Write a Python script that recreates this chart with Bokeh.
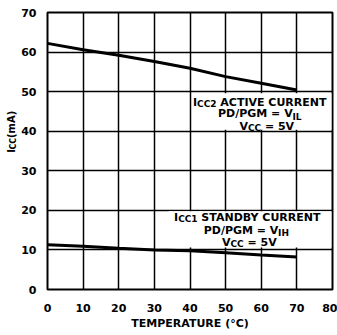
import math
from bokeh.plotting import figure
from bokeh.layouts import row
from bokeh.models import Range1d, FixedTicker, Label, BoxAnnotation
from bokeh.core.properties import value
from bokeh.embed import file_html
from bokeh.resources import INLINE

# ---- data ----
temperature = [0, 10, 20, 30, 40, 50, 60, 70]
icc2_active = [62.2, 60.6, 59.2, 57.6, 55.9, 53.8, 52.1, 50.4]
icc1_standby = [11.3, 10.9, 10.4, 10.0, 9.8, 9.3, 8.7, 8.2]
x_ticks = [0, 10, 20, 30, 40, 50, 60, 70, 80]
y_ticks = [0, 10, 20, 30, 40, 50, 60, 70]
x_title = "TEMPERATURE (°C)"
y_title_parts = ["I", "CC", "(mA)"]

# ---- layout (page pixels) ----
S = 18            # width of the strip holding the y title
W, H = 337, 332   # whole page area
FL, FT, FR, FB = 46, 12, 332, 298
X0, X1, Y0, Y1 = 0, 80, 0, 70
FONT = "DejaVu Sans"

def dx(px):
    return X0 + (px - FL) / (FR - FL) * (X1 - X0)

def dy(py):
    return Y0 + (FB - py) / (FB - FT) * (Y1 - Y0)

# DejaVu Sans Bold advance widths (em)
CW = {" ": .348, "(": .458, ")": .458, "/": .365, "=": .838, "°": .500,
      "A": .774, "B": .762, "C": .734, "D": .830, "E": .683, "G": .821,
      "H": .837, "I": .372, "L": .637, "M": .995, "N": .837, "P": .733,
      "R": .770, "S": .720, "T": .682, "U": .812, "V": .774, "Y": .724,
      "m": 1.042}
for d in "0123456789":
    CW[d] = .696

def tw(s, size):
    return sum(CW.get(c, .7) for c in s) * size

p = figure(width=W - S, height=H, output_backend="svg", toolbar_location=None,
           x_range=Range1d(X0, X1), y_range=Range1d(Y0, Y1),
           min_border_left=FL - S, min_border_top=FT,
           min_border_right=W - FR, min_border_bottom=H - FB)

p.background_fill_color = "white"
p.border_fill_color = "white"
p.outline_line_color = "black"
p.outline_line_width = 2
p.outline_line_alpha = 1

xt = FixedTicker(ticks=x_ticks)
yt = FixedTicker(ticks=y_ticks)
p.xaxis.ticker = xt
p.yaxis.ticker = yt
p.xgrid.ticker = xt
p.ygrid.ticker = yt
p.grid.grid_line_color = "black"
p.grid.grid_line_width = 1.5
p.grid.grid_line_alpha = 1

for ax in (p.xaxis, p.yaxis):
    ax.axis_line_color = None
    ax.major_tick_line_color = None
    ax.minor_tick_line_color = None
    ax.major_label_text_font = FONT
    ax.major_label_text_font_style = "bold"
    ax.major_label_text_font_size = "11px"
    ax.major_label_text_color = "black"
p.xaxis.major_label_standoff = 8
p.yaxis.major_label_standoff = 5

p.xaxis.axis_label = x_title
p.xaxis.axis_label_text_font = FONT
p.xaxis.axis_label_text_font_style = "bold"
p.xaxis.axis_label_text_font_size = "11px"
p.xaxis.axis_label_text_color = "black"
p.xaxis.axis_label_standoff = 2

# white backgrounds behind the annotation texts
p.add_layout(BoxAnnotation(left=40.6, right=79.7, top=49.6, bottom=40.4,
                           fill_color="white", fill_alpha=1, line_color=None,
                           level="underlay"))
p.add_layout(BoxAnnotation(left=34.0, right=79.7, top=19.8, bottom=10.6,
                           fill_color="white", fill_alpha=1, line_color=None,
                           level="underlay"))

p.line(temperature, icc2_active, line_color="black", line_width=3)
p.line(temperature, icc1_standby, line_color="black", line_width=3)

def run(pieces, sx, sy, align="left"):
    total = sum(tw(t, s) for t, s, _ in pieces)
    if align == "center":
        sx -= total / 2
    for t, s, drop in pieces:
        lead = len(t) - len(t.lstrip(" "))
        sx += tw(" " * lead, s)
        t2 = t.lstrip(" ")
        p.add_layout(Label(x=dx(sx), y=dy(sy + drop), text=t2,
                           text_font=FONT, text_font_style="bold",
                           text_font_size=f"{s}px", text_color="black",
                           text_align="left", text_baseline="alphabetic"))
        sx += tw(t2, s)

# active current annotation
run([("I", 11, 0), ("CC2", 9, 1.5), (" ACTIVE CURRENT", 11, 0)], 192, 104.5)
run([("PD/PGM = V", 11, 0), ("IL", 9, 3)], 259, 116.7, "center")
run([("V", 11, 0), ("CC", 9, 1.5), (" = 5V", 11, 0)], 266, 129.3, "center")

# standby current annotation
run([("I", 11, 0), ("CC1", 9, 1.5), (" STANDBY CURRENT", 11, 0)], 173, 223.5)
run([("PD/PGM = V", 11, 0), ("IH", 9, 3)], 245.5, 236.7, "center")
run([("V", 11, 0), ("CC", 9, 1.5), (" = 5V", 11, 0)], 248.5, 249.3, "center")

# ---- strip on the left holding the rotated y title ----
q = figure(width=S, height=H, output_backend="svg", toolbar_location=None,
           x_range=Range1d(0, S), y_range=Range1d(H, 0),
           x_axis_location=None, y_axis_location=None,
           min_border=0, min_border_left=0, min_border_right=0,
           min_border_top=0, min_border_bottom=0)
q.outline_line_color = None
q.grid.visible = False
q.background_fill_color = "white"
q.border_fill_color = "white"

sizes = [10, 8, 10]
drops = [0, 1.5, 0]
base_x = 11
ys = []
xs = []
y_cur = 168
for i, (t, s) in enumerate(zip(y_title_parts, sizes)):
    if i == 2:
        y_cur -= 2
    ys.append(y_cur)
    xs.append(base_x + drops[i])
    y_cur -= tw(t, s)
for t, s, x, y in zip(y_title_parts, sizes, xs, ys):
    q.text(x=[x], y=[y], text=[t], angle=math.pi / 2,
           text_font=value(FONT), text_font_style="bold",
           text_font_size=f"{s}px", text_color="black",
           text_align="left", text_baseline="alphabetic")

layout = row(q, p, spacing=0)
open("out.html", "w").write(file_html(layout, INLINE))
